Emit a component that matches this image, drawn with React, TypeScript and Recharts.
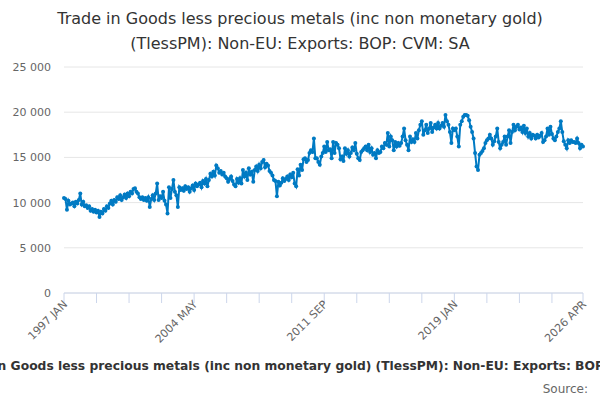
import { LineChart, Line, XAxis, YAxis, CartesianGrid } from "recharts";

const START_YEAR = 1997;
const MONTHS = ["JAN", "FEB", "MAR", "APR", "MAY", "JUN", "JUL", "AUG", "SEP", "OCT", "NOV", "DEC"];

// £ million, one line per year (1997 JAN .. 2026 APR)
const exportsValues = [
  10500, 10400, 9200, 10200, 9800, 9900, 10000, 9600, 10100, 9900, 10300, 11000,
  9800, 10100, 9600, 9700, 9400, 9600, 9100, 9300, 9000, 9200, 8900, 9100,
  8400, 9000, 8800, 9300, 9100, 9600, 9400, 9900, 10200, 9800, 10300, 10100,
  10600, 10400, 10800, 10300, 10600, 10900, 10500, 11000, 10700, 11200, 11000, 11500,
  11600, 11200, 11000, 10600, 10400, 10600, 10300, 10500, 10200, 10600, 9500, 10400,
  10800, 10300, 11000, 12100, 10300, 10700, 10500, 11200, 10200, 9800, 8800, 11700,
  10500, 11500, 12500, 11200, 10800, 9500, 11700, 11400, 11600, 11300, 11800, 11500,
  11700, 11200, 11600, 11900, 11400, 12100, 11800, 12000, 12200, 11700, 12400, 12100,
  12600, 11800, 12500, 13200, 12900, 13400, 13000, 14100, 13800, 13300, 13500, 13100,
  13300, 12900, 12700, 12300, 12600, 12900, 12400, 12000, 11800, 12600, 12200, 12700,
  12100, 13600, 12900, 13300, 12500, 13800, 13100, 13400, 12300, 13600, 14000, 13500,
  14200, 13800, 14500, 14700, 13900, 14300, 14100, 13500, 13300, 13000, 12500, 12400,
  10700, 12300, 11900, 12200, 12700, 12400, 12600, 12900, 12500, 13100, 12800, 13300,
  12100, 11800, 13700, 13000, 14200, 13600, 14800, 14900, 14500, 14700, 15500, 15800,
  15600, 17100, 14900, 14900, 14500, 14200, 15100, 15500, 16200, 15600, 16700, 15800,
  15900, 14900, 16700, 15500, 16600, 16400, 16000, 14800, 15100, 14600, 16000, 15400,
  15800, 15100, 15500, 16100, 15800, 16600, 15400, 14900, 14700, 15600, 15800, 16000,
  16200, 15800, 16400, 15600, 16000, 15300, 15500, 14900, 15800, 15500, 15600, 16200,
  16000, 16600, 16400, 17700, 16200, 17300, 16900, 15800, 16700, 16200, 16600, 16300,
  16600, 17300, 18200, 16900, 16400, 15800, 17300, 16700, 17000, 16700, 17700, 17100,
  18000, 18600, 19000, 17500, 18000, 18600, 17700, 18200, 18800, 17800, 18300, 18600,
  18200, 18800, 18200, 18500, 18800, 18400, 19700, 19000, 18600, 17800, 16600, 18200,
  18000, 18200, 17300, 16200, 18600, 19000, 19500, 19700, 19700, 19600, 19100, 18400,
  17800, 17100, 15500, 14000, 13600, 15300, 15500, 15700, 16000, 16600, 16900, 17100,
  17500, 17100, 16400, 16800, 17300, 18200, 16700, 16000, 16400, 16700, 17300, 16400,
  17300, 18000, 16600, 17800, 18600, 18000, 18400, 18600, 18100, 18300, 17800, 18500,
  17700, 18200, 17300, 17700, 17100, 17500, 17400, 17100, 17500, 17200, 17400, 17700,
  16700, 16900, 17300, 18200, 17500, 18400, 17600, 17100, 16900, 17300, 17800, 18200,
  19000, 17800, 16800, 16400, 16000, 16900, 16600, 16900, 16700, 16700, 16600, 17100,
  16600, 16000, 16400, 16200,
];

const labelledPeriods = ["1997 JAN", "2004 MAY", "2011 SEP", "2019 JAN", "2026 APR"];
const yTicks = [0, 5000, 10000, 15000, 20000, 25000];

const TITLE_1 = "Trade in Goods less precious metals (inc non monetary gold)";
const TITLE_2 = "(TlessPM): Non-EU: Exports: BOP: CVM: SA";
const FULL_TITLE = TITLE_1 + " " + TITLE_2;

const LINE_COLOR = "#007ac3";
const FONT = "'DejaVu Sans', sans-serif";

const data = exportsValues.map((v, i) => ({
  i,
  period: `${START_YEAR + Math.floor(i / 12)} ${MONTHS[i % 12]}`,
  value: v,
}));

// tick every 22 months, plus the last period
const xTicks = data.filter((d) => d.i % 22 === 0 && d.i < data.length - 10).map((d) => d.i);
xTicks.push(data.length - 1);

const fmt = (v: number) => v.toLocaleString("en-US").replace(/,/g, " ");

function XTick(props: any) {
  const { x, payload } = props;
  const label = data[payload.value]?.period;
  if (!labelledPeriods.includes(label)) return null;
  const tx = x + 4;
  const ty = 305;
  return (
    <text x={tx} y={ty} transform={`rotate(-45, ${tx}, ${ty})`} textAnchor="end"
      fontSize={11} fill="#666" fontFamily={FONT}>
      {label}
    </text>
  );
}

export default function App() {
  return (
    <div style={{ position: "absolute", left: 0, top: 0, width: 600, height: 400, overflow: "hidden", background: "#fff", fontFamily: FONT }}>
      <LineChart width={600} height={400} data={data} margin={{ top: 67, right: 17, bottom: 0, left: 8 }}>
        <CartesianGrid vertical={false} stroke="#e6e6e6" />
        <XAxis
          dataKey="i"
          type="number"
          domain={[0, data.length - 1]}
          ticks={xTicks}
          interval={0}
          height={107}
          stroke="#ccd6eb"
          tickSize={10}
          tick={<XTick />}
        />
        <YAxis
          domain={[0, 25000]}
          ticks={yTicks}
          width={56}
          axisLine={false}
          tickLine={false}
          tickSize={0}
          tickMargin={13}
          tickFormatter={fmt}
          tick={{ fill: "#666", fontSize: 11, fontFamily: FONT }}
        />
        <Line
          dataKey="value"
          stroke={LINE_COLOR}
          strokeWidth={2}
          dot={{ r: 2, fill: LINE_COLOR, stroke: "none" }}
          activeDot={false}
          isAnimationActive={false}
        />
      </LineChart>
      <svg width={600} height={400} style={{ position: "absolute", left: 0, top: 0, pointerEvents: "none" }}>
        <text x={300} y={24} textAnchor="middle" fontSize={16} fill="#333">{TITLE_1}</text>
        <text x={300} y={49} textAnchor="middle" fontSize={16} fill="#333">{TITLE_2}</text>
        <text x={311} y={370} textAnchor="middle" fontSize={12.3} fontWeight="bold" fill="#333">{FULL_TITLE}</text>
        <text x={588} y={393} textAnchor="end" fontSize={12} fill="#666">Source:</text>
      </svg>
    </div>
  );
}
